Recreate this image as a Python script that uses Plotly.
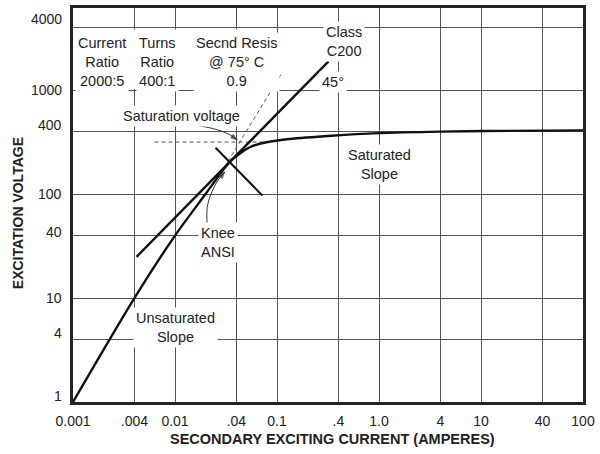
import math
import plotly.graph_objects as go

# Secondary excitation curve of a 2000:5 C200 current transformer
exc_current = [0.001, 0.004, 0.01, 0.02, 0.0316, 0.0358, 0.0417, 0.0493, 0.0565,
               0.0693, 0.0975, 0.132, 0.34, 1.0, 4.0, 11.0, 100]
exc_voltage = [1, 10, 40, 101, 186, 213, 240, 270, 289,
               308, 327, 340, 366, 388, 401, 406, 412]

# 45 degree tangent line (ANSI knee)
tangent_current = [0.0042, 0.32]
tangent_voltage = [25, 1904]

# short line across the knee, perpendicular to the tangent
knee_mark_current = [0.025, 0.072]
knee_mark_voltage = [280, 97]

# extension of the unsaturated slope and the saturation level
unsat_ext_current = [0.028, 0.113]
unsat_ext_voltage = [158, 1500]
sat_level_current = [0.0063, 0.085]
sat_level_voltage = [318, 318]

# curved leader arrows
sat_arrow_current = [0.0139, 0.0244, 0.0347, 0.0408]
sat_arrow_voltage = [471, 425, 373, 333]
knee_arrow_current = [0.0207, 0.0207, 0.0224, 0.0262, 0.0307]
knee_arrow_voltage = [48.8, 74.6, 99, 135, 164]

x_ticks = [0.001, 0.004, 0.01, 0.04, 0.1, 0.4, 1, 4, 10, 40, 100]
x_tick_text = ["0.001", ".004", "0.01", ".04", "0.1", ".4", "1.0", "4", "10", "40", "100"]
y_ticks = [1, 4, 10, 40, 100, 400, 1000, 4000]
y_tick_text = ["1", "4", "10", "40", "100", "400", "1000", "4000"]
y_label_lift = [6, 6, 0, 4, 0, 7, 0, 9]

FONT = "Liberation Sans, Arial, Helvetica, sans-serif"
TXT = "#222222"
INK = "#111111"

fig = go.Figure()

fig.add_trace(go.Scatter(x=unsat_ext_current, y=unsat_ext_voltage, mode="lines",
                         line=dict(color="#555", width=1, dash="4px,3px")))
fig.add_trace(go.Scatter(x=sat_level_current, y=sat_level_voltage, mode="lines",
                         line=dict(color="#555", width=1, dash="4px,3px")))
fig.add_trace(go.Scatter(x=tangent_current, y=tangent_voltage, mode="lines",
                         line=dict(color=INK, width=2.4)))
fig.add_trace(go.Scatter(x=knee_mark_current, y=knee_mark_voltage, mode="lines",
                         line=dict(color=INK, width=2.1)))
fig.add_trace(go.Scatter(x=exc_current, y=exc_voltage, mode="lines",
                         line=dict(color=INK, width=2.4, shape="spline", smoothing=0.8)))

for xs, ys in [(sat_arrow_current, sat_arrow_voltage), (knee_arrow_current, knee_arrow_voltage)]:
    fig.add_trace(go.Scatter(
        x=xs, y=ys, mode="lines+markers",
        line=dict(color="#333", width=1, shape="spline"),
        marker=dict(symbol="arrow", angleref="previous", color="#222",
                    size=[0] * (len(xs) - 1) + [7]),
    ))

# white block behind the ratings table
fig.add_shape(type="rect", xref="x", yref="y", x0=0.001, x1=0.097, y0=1030, y1=3850,
              fillcolor="white", line=dict(width=0), layer="between")

annotations = []


def label(text, x, y, **kw):
    d = dict(text=text, x=math.log10(x), y=math.log10(y), xref="x", yref="y",
             showarrow=False, bgcolor="white", borderpad=2,
             font=dict(family=FONT, size=14.5, color=TXT))
    d.update(kw)
    annotations.append(d)


label("Current<br>Ratio<br>2000:5", 0.00194, 1867)
label("Turns<br>Ratio<br>400:1", 0.00673, 1867)
label("Secnd Resis<br>@ 75° C<br>0.9", 0.04, 1867)
label("Class<br>C200", 0.456, 2945)
label("45°", 0.353, 1200, xanchor="center")
label("Saturation voltage", 0.0115, 565)
label("Knee<br>ANSI", 0.0262, 34.5)
label("Unsaturated<br>Slope", 0.0102, 5.2)
label("Saturated<br>Slope", 1.0, 195)

for v, t, lift in zip(y_ticks, y_tick_text, y_label_lift):
    annotations.append(dict(text=t, xref="paper", x=0, xanchor="right", xshift=-9,
                            yref="y", y=math.log10(v), yanchor="middle", yshift=lift,
                            showarrow=False, font=dict(family=FONT, size=14, color=TXT)))

annotations.append(dict(text="<b>SECONDARY EXCITING CURRENT (AMPERES)</b>",
                        xref="paper", x=0.5, xshift=4, yref="paper", y=-0.093,
                        yanchor="middle", showarrow=False,
                        font=dict(family=FONT, size=14.5, color=TXT)))
annotations.append(dict(text="<b>EXCITATION VOLTAGE</b>", textangle=-90,
                        xref="paper", x=-0.108, yref="paper", y=0.479,
                        xanchor="center", yanchor="middle", showarrow=False,
                        font=dict(family=FONT, size=14, color=TXT)))

fig.update_xaxes(type="log", range=[-3, 2], tickvals=x_ticks, ticktext=x_tick_text,
                 showgrid=True, gridcolor="#555", gridwidth=1, zeroline=False,
                 showline=True, linecolor="#222", linewidth=3, mirror=True,
                 ticks="", ticklabelstandoff=4,
                 tickfont=dict(family=FONT, size=14, color=TXT))
fig.update_yaxes(type="log", range=[0, 3.793], tickvals=y_ticks, showticklabels=False,
                 showgrid=True, gridcolor="#555", gridwidth=1, zeroline=False,
                 showline=True, linecolor="#222", linewidth=3, mirror=True, ticks="")

fig.update_layout(width=600, height=454, margin=dict(l=73, r=17, t=5, b=52),
                  plot_bgcolor="white", paper_bgcolor="white", showlegend=False,
                  annotations=annotations)

fig.write_html("out.html")
